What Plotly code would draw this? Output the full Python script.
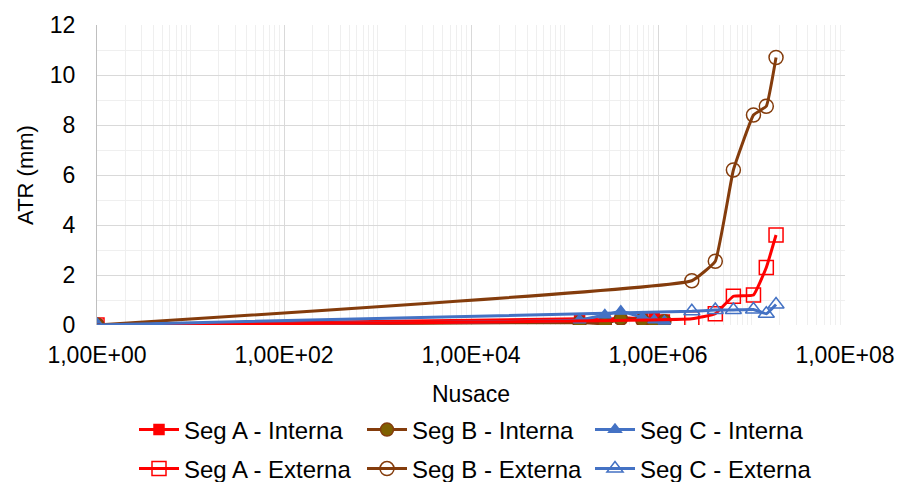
import plotly.graph_objects as go

# x values (Nusace) and ATR (mm)
x_int = [1, 1.45e5, 2.7e5, 4.0e5, 6.8e5, 9.1e5, 1.17e6]
segA_int = [0, 0.25, 0.2, 0.3, 0.25, 0.3, 0.2]
segB_int = [0, 0.1, 0.05, 0.25, 0.2, 0.05, 0.15]
segC_int = [0, 0.2, 0.4, 0.55, 0.3, 0.2, 0.15]

x_ext = [1, 2.3e6, 4.1e6, 6.4e6, 1.05e7, 1.44e7, 1.83e7]
segA_ext = [0, 0.25, 0.45, 1.15, 1.2, 2.3, 3.6]
segB_ext = [0, 1.77, 2.55, 6.2, 8.4, 8.75, 10.7]
segC_ext = [0, 0.55, 0.6, 0.6, 0.62, 0.45, 0.82]

xtick_vals = [1, 1e2, 1e4, 1e6, 1e8]
xtick_text = ["1,00E+00", "1,00E+02", "1,00E+04", "1,00E+06", "1,00E+08"]

red = '#FF0000'
brown = '#843C0C'
blue = '#4472C4'

fig = go.Figure()

# interna -> first legend row, externa -> second legend row
series = [
    ("Seg A - Interna", x_int, segA_int, red, 'square', red, 10, 'legend'),
    ("Seg B - Interna", x_int, segB_int, brown, 'circle', '#7F6000', 13, 'legend'),
    ("Seg C - Interna", x_int, segC_int, blue, 'triangle-up', blue, 11, 'legend'),
    ("Seg A - Externa", x_ext, segA_ext, red, 'square-open', red, 14, 'legend2'),
    ("Seg B - Externa", x_ext, segB_ext, brown, 'circle-open', brown, 14, 'legend2'),
    ("Seg C - Externa", x_ext, segC_ext, blue, 'triangle-up-open', blue, 14, 'legend2'),
]

for name, xs, ys, col, sym, fill, sz, leg in series:
    fig.add_trace(go.Scatter(
        x=xs, y=ys, name=name, mode='lines+markers', legend=leg,
        line=dict(color=col, width=3, shape='spline', smoothing=0.3),
        marker=dict(symbol=sym, size=sz, color=fill,
                    line=dict(color=col, width=1.5)),
    ))

grid_major = '#D9D9D9'
grid_minor = '#EFEFEF'

leg_common = dict(
    orientation='h', xref='container', yref='container',
    xanchor='left', yanchor='middle',
    font=dict(size=24), entrywidth=173, itemwidth=40,
    traceorder='normal',
)

fig.update_layout(
    width=903, height=482,
    margin=dict(l=89, r=66, t=17, b=165, autoexpand=False),
    plot_bgcolor='white', paper_bgcolor='white',
    font=dict(family='Liberation Sans, Arial', size=23, color='black'),
    xaxis=dict(
        type='log', range=[0, 8],
        tickvals=xtick_vals, ticktext=xtick_text,
        tickfont=dict(size=23), ticklabelstandoff=14,
        showgrid=True, gridcolor=grid_major, gridwidth=1,
        minor=dict(dtick='D1', showgrid=True, gridcolor=grid_minor, ticks=''),
        zeroline=False, showline=False,
        title=dict(text='Nusace', standoff=18, font=dict(size=23)),
        ticks='', ticklen=0,
    ),
    yaxis=dict(
        range=[0, 12], dtick=2,
        tickfont=dict(size=23), ticklabelstandoff=16,
        showgrid=True, gridcolor=grid_major, gridwidth=1,
        minor=dict(dtick=1, showgrid=True, gridcolor=grid_minor),
        zeroline=False, showline=True, linecolor='#BFBFBF', linewidth=1,
        title=dict(text='ATR (mm)', standoff=10, font=dict(size=22)),
        ticks='',
    ),
    legend=dict(leg_common, x=126 / 903, y=1 - 422 / 482),
    legend2=dict(leg_common, x=126 / 903, y=1 - 461 / 482),
)

fig.write_html("out.html")
